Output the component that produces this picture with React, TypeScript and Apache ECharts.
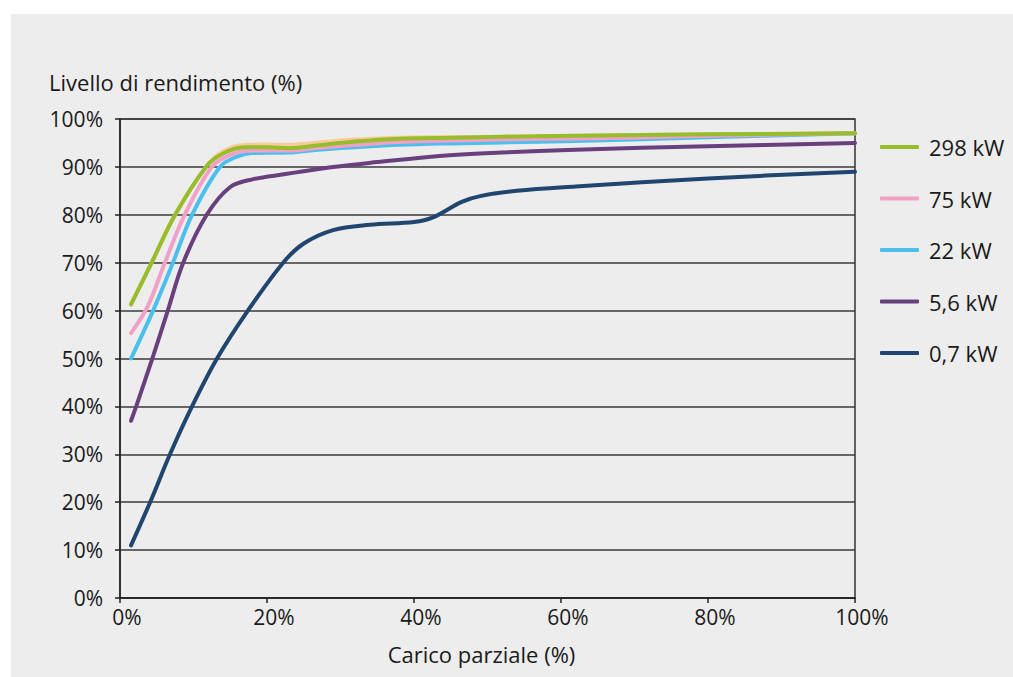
import React, { useEffect, useRef } from "react";
import * as echarts from "echarts";

const legendNames = ["298 kW", "75 kW", "22 kW", "5,6 kW", "0,7 kW"];
const xTicks = [0, 20, 40, 60, 80, 100];

const s298: number[][] = [[1.5, 61.3], [4.3, 70], [7.5, 80], [11.7, 90], [14, 92.8], [17, 94.1], [20, 94.1], [23, 93.9], [27, 94.5], [32, 95.3], [38, 95.9], [45, 96.1], [52, 96.3], [62, 96.5], [80, 96.8], [100, 97]];
const s75: number[][] = [[1.5, 55.3], [3.8, 61], [6.1, 70], [8.8, 80], [12.5, 90], [15, 92.5], [18, 93.4], [23, 93.4], [27, 94], [32, 94.6], [38, 95.2], [45, 95.5], [55, 95.8], [69, 96.1], [80, 96.5], [100, 97]];
const s22: number[][] = [[1.5, 50], [4.5, 60], [7.2, 70], [9.8, 80], [13.6, 90], [16, 92.2], [18, 92.9], [23, 93], [27, 93.6], [32, 94.1], [38, 94.6], [45, 94.9], [52, 95.1], [62, 95.4], [80, 96.2], [100, 97]];
const s56: number[][] = [[1.5, 37], [2.2, 40], [4.4, 50], [6.5, 60], [8.6, 70], [11.8, 80], [15, 85.8], [18, 87.4], [22.5, 88.5], [25, 89.1], [29, 90], [35, 91], [43.5, 92.3], [52, 93], [62, 93.6], [80, 94.3], [100, 95]];
const s07: number[][] = [[1.5, 11], [4.1, 20], [6.8, 30], [9.8, 40], [13.2, 50], [17.4, 60], [22.2, 70], [25, 74], [29, 76.8], [34, 77.9], [40, 78.5], [42.5, 79.4], [46.5, 82.7], [49, 83.9], [54, 85], [62, 85.9], [80, 87.6], [100, 89]];
const sPeach: number[][] = [[1.5, 61.3], [4.3, 70], [7.5, 80], [11.7, 90], [14, 93.2], [17, 94.6], [20, 94.7], [23, 94.6], [27, 95.1], [32, 95.7], [38, 96.1], [45, 96.2], [52, 96.3], [62, 96.5], [80, 96.8], [100, 97]];

const colors = ["#97bd2b", "#f2a0c8", "#4cc0ec", "#6a3f7e", "#204670"];
const peachColor = "#f9cb9c";

const FONT = "'Open Sans', Lato, sans-serif";

export default function App() {
  const ref = useRef<HTMLDivElement>(null);
  useEffect(() => {
    if (!ref.current) return;
    const chart = echarts.init(ref.current, null, { renderer: "svg" });
    const mk = (name: string, data: number[][], color: string, z: number) => ({
      name,
      type: "line",
      data,
      smooth: 0.35,
      showSymbol: false,
      symbol: "none",
      z,
      lineStyle: { color, width: 4, cap: "round" },
      itemStyle: { color },
    });
    chart.setOption({
      animation: false,
      backgroundColor: "#ffffff",
      textStyle: { fontFamily: FONT },
      graphic: [
        { type: "rect", z: -10, shape: { x: 11, y: 14, width: 1002, height: 663 }, style: { fill: "#ededed" }, silent: true },
        { type: "text", left: 49, top: 71, style: { text: "Livello di rendimento (%)", font: `22px ${FONT}`, fill: "#1a1a1a" } },
      ],
      grid: {
        left: 120,
        right: 158,
        top: 119,
        bottom: 79,
        show: true,
        borderColor: "#333333",
        borderWidth: 1.5,
        backgroundColor: "transparent",
      },
      legend: {
        data: legendNames,
        orient: "vertical",
        left: 880,
        top: 136,
        padding: 0,
        itemWidth: 39,
        itemHeight: 4,
        itemGap: 29.5,
        icon: "roundRect",
        textStyle: { fontSize: 22, lineHeight: 22, color: "#1a1a1a", fontFamily: FONT, padding: [0, 0, 0, 5] },
      },
      xAxis: {
        type: "value",
        min: 0,
        max: 100,
        interval: 20,
        name: "Carico parziale (%)",
        nameLocation: "middle",
        nameGap: 45,
        nameTextStyle: { fontSize: 22, color: "#1a1a1a", fontFamily: FONT, padding: [0, 12, 0, 0] },
        axisLine: { show: true, lineStyle: { color: "#222", width: 1.5 } },
        axisTick: { show: true, length: 5, lineStyle: { color: "#222", width: 1.5 } },
        axisLabel: { fontSize: 21, color: "#1a1a1a", margin: 8, padding: [0, 0, 0, 14], formatter: (v: number) => (xTicks.includes(v) ? `${v}%` : "") },
        splitLine: { show: false },
      },
      yAxis: {
        type: "value",
        min: 0,
        max: 100,
        interval: 10,
        axisLine: { show: true, lineStyle: { color: "#222", width: 1.5 } },
        axisTick: { show: true, length: 5, lineStyle: { color: "#222", width: 1.5 } },
        axisLabel: { fontSize: 21, color: "#1a1a1a", margin: 17, formatter: "{value}%" },
        splitLine: { show: true, lineStyle: { color: "#3a3a3a", width: 1.5 } },
      },
      series: [
        mk("peach", sPeach, peachColor, 1),
        mk(legendNames[4], s07, colors[4], 2),
        mk(legendNames[3], s56, colors[3], 3),
        mk(legendNames[2], s22, colors[2], 4),
        mk(legendNames[1], s75, colors[1], 5),
        mk(legendNames[0], s298, colors[0], 6),
      ],
    });
    return () => chart.dispose();
  }, []);
  return <div ref={ref} style={{ position: "fixed", left: 0, top: 0, width: 1013, height: 677 }} />;
}
